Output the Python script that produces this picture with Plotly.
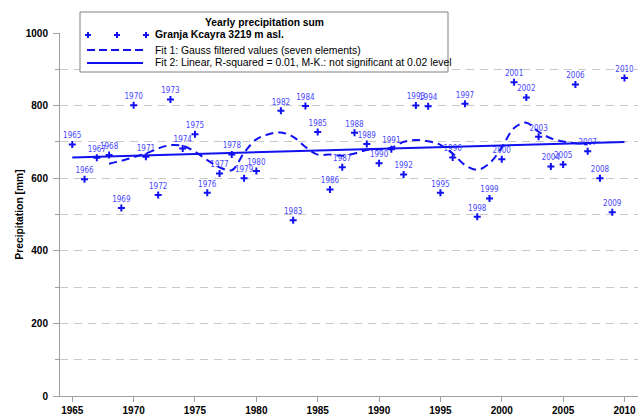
import plotly.graph_objects as go

years = list(range(1965, 2011))
precip = [693, 597, 656, 664, 518, 801, 659, 554, 817, 682,
          721, 560, 613, 665, 600, 620, None, 786, 484, 799,
          727, 569, 630, 725, 694, 641, 680, 610, 800, 798,
          560, 657, 805, 494, 544, 652, 864, 822, 714, 632,
          638, 858, 674, 600, 506, 876]

gauss_years = list(range(1968, 2008))
gauss_vals = [640, 648, 658, 668, 682, 691, 689, 673, 650, 630,
              622, 670, 707, 721, 726, 714, 686, 665, 665, 662,
              668, 678, 680, 684, 700, 705, 702, 692, 668, 636,
              623, 641, 685, 738, 753, 728, 710, 701, 696, 693]

lin_years = [1965, 2010]
lin_vals = [657, 700]

yticks = [0, 200, 400, 600, 800, 1000]
xticks = [1965, 1970, 1975, 1980, 1985, 1990, 1995, 2000, 2005, 2010]

legend_title = "Yearly precipitation sum"
series_names = ["Granja Kcayra 3219 m asl.",
                "Fit 1: Gauss filtered values (seven elements)",
                "Fit 2: Linear, R-squared = 0.01, M-K.: not significant at 0.02 level"]

BLUE = "#1010f0"
LABEL_BLUE = "#4646ff"
FONT = "Liberation Sans, Arial, sans-serif"
NARROW = "Liberation Sans Narrow, DejaVu Sans Condensed, Liberation Sans, Arial, sans-serif"
GRID = "#c8c8c8"
AXIS = "#a0a0a0"

labels = [str(y) if v is not None else "" for y, v in zip(years, precip)]

W, H = 638, 418
ML, MR, MT, MB = 60, 0, 33, 22
PW, PH = W - ML - MR, H - MT - MB


def px(X):   # page x -> paper x
    return (X - ML) / PW


def py(Y):   # page y -> paper y
    return (H - MB - Y) / PH


fig = go.Figure()
fig.add_trace(go.Scatter(
    x=years, y=precip, mode="markers+text", text=labels,
    textposition="top center",
    textfont=dict(size=8, color=LABEL_BLUE, family=NARROW),
    marker=dict(symbol="cross-thin", size=5, line=dict(width=2, color=BLUE), color=BLUE),
    name=series_names[0], cliponaxis=False, showlegend=False))
fig.add_trace(go.Scatter(
    x=gauss_years, y=gauss_vals, mode="lines",
    line=dict(color=BLUE, width=2, dash="8px,5px", shape="spline"),
    name=series_names[1], showlegend=False))
fig.add_trace(go.Scatter(
    x=lin_years, y=lin_vals, mode="lines",
    line=dict(color=BLUE, width=2),
    name=series_names[2], showlegend=False))

# hand-drawn legend box (matches the reference's compact layout)
shapes = [dict(type="rect", xref="paper", yref="paper",
               x0=px(80), x1=px(448), y0=py(72), y1=py(12),
               line=dict(color="#808080", width=1), fillcolor="white", layer="above")]
for X in (88, 117, 146):
    shapes.append(dict(type="path", xref="paper", yref="paper",
                       xsizemode="pixel", ysizemode="pixel",
                       xanchor=px(X), yanchor=py(35),
                       path="M-3,0H3M0,-3V3", line=dict(color=BLUE, width=2)))
shapes.append(dict(type="line", xref="paper", yref="paper",
                   x0=px(87), x1=px(143), y0=py(50), y1=py(50),
                   line=dict(color=BLUE, width=2, dash="8px,4px")))
shapes.append(dict(type="line", xref="paper", yref="paper",
                   x0=px(87), x1=px(143), y0=py(63), y1=py(63),
                   line=dict(color=BLUE, width=2)))

annotations = [
    dict(text=f"<b>{legend_title}</b>", x=px(264), y=py(23), xref="paper", yref="paper",
         xanchor="center", yanchor="middle", showarrow=False,
         font=dict(size=10.3, family=FONT, color="black")),
    dict(text=f"<b>{series_names[0]}</b>", x=px(153), y=py(35), xref="paper", yref="paper",
         xanchor="left", yanchor="middle", showarrow=False,
         font=dict(size=10.4, family=FONT, color="black")),
    dict(text=series_names[1], x=px(153), y=py(50), xref="paper", yref="paper",
         xanchor="left", yanchor="middle", showarrow=False,
         font=dict(size=10.4, family=FONT, color="black")),
    dict(text=series_names[2], x=px(153), y=py(63), xref="paper", yref="paper",
         xanchor="left", yanchor="middle", showarrow=False,
         font=dict(size=10.4, family=FONT, color="black")),
]

fig.update_layout(
    template="none",
    width=W, height=H,
    margin=dict(l=ML, r=MR, t=MT, b=MB, pad=0),
    paper_bgcolor="white", plot_bgcolor="white",
    font=dict(family=FONT, size=10, color="black"),
    showlegend=False,
    shapes=shapes, annotations=annotations,
    xaxis=dict(
        range=[1964, 2011.1], tickvals=xticks, ticktext=[f"<b>{t}</b>" for t in xticks],
        showgrid=False, zeroline=False, showline=True, linecolor=AXIS, linewidth=1,
        ticks="outside", ticklen=5, tickcolor=AXIS, tickwidth=1, automargin=False,
        tickfont=dict(size=10, family=FONT, color="black"),
    ),
    yaxis=dict(
        range=[0, 1000], tickvals=yticks, ticktext=[f"<b>{t}</b>" for t in yticks],
        showgrid=True, gridcolor=GRID, griddash="8px,6px", gridwidth=1,
        zeroline=False, showline=True, linecolor=AXIS, linewidth=1,
        ticks="outside", ticklen=6, tickcolor=AXIS, tickwidth=1, automargin=False,
        ticklabelstandoff=3,
        tickfont=dict(size=10, family=FONT, color="black"),
        title=dict(text="<b>Precipitation [mm]</b>", font=dict(size=10.3, family=FONT), standoff=0),
        minor=dict(tickvals=[100, 300, 500, 700, 900], showgrid=True, gridcolor=GRID,
                   griddash="8px,6px", ticks="outside", ticklen=4, tickcolor=AXIS),
    ),
)

fig.write_html("out.html", config={"displayModeBar": False},
               post_script="document.body.style.margin='0';document.body.style.overflow='hidden';")
